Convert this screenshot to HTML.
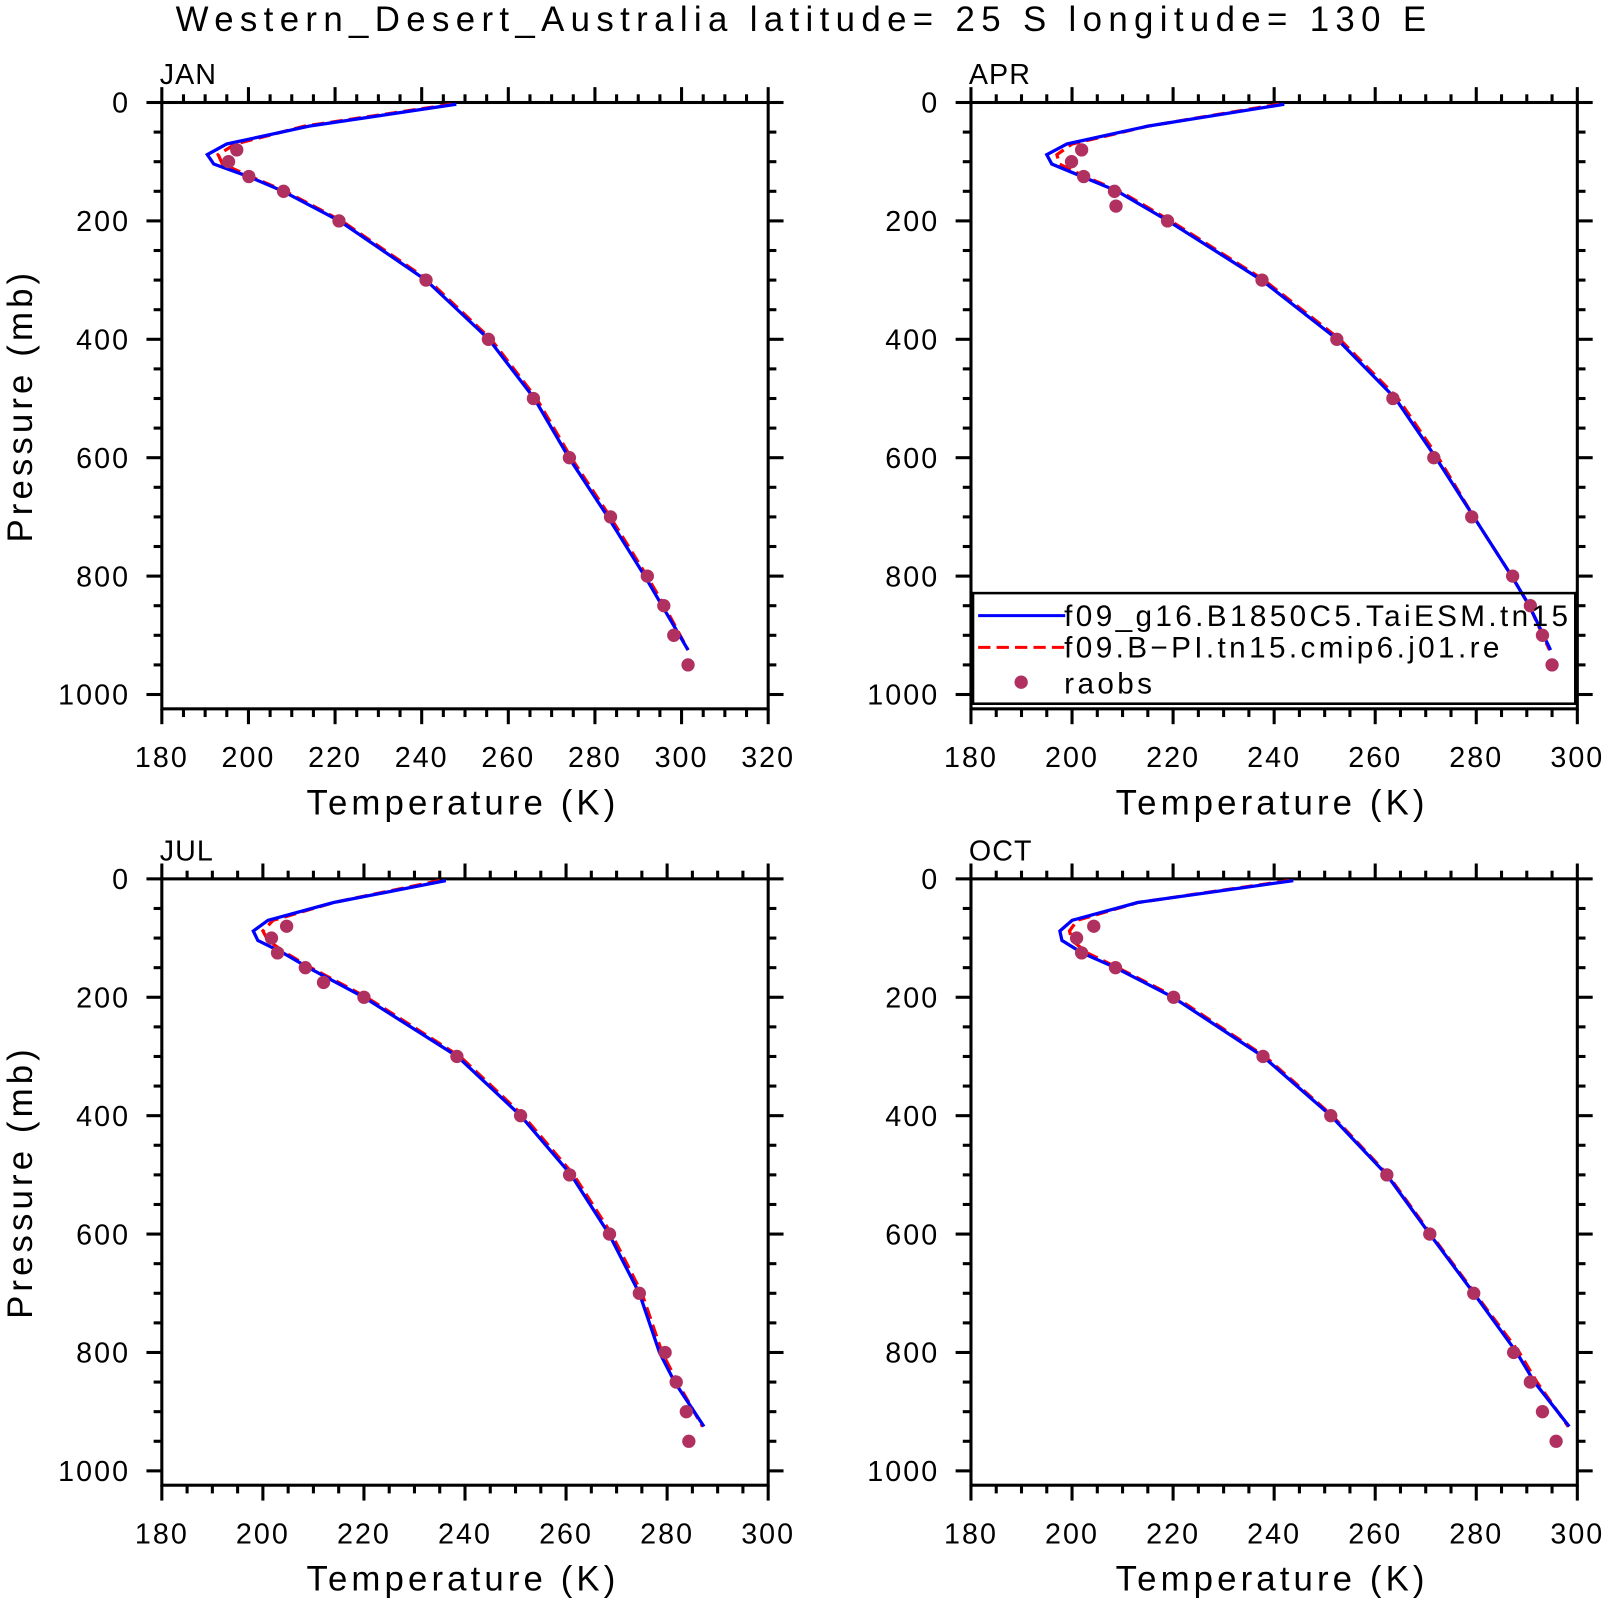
<!DOCTYPE html>
<html><head><meta charset="utf-8"><style>
html,body{margin:0;padding:0;background:#fff}
svg text{font-family:"Liberation Sans",sans-serif;fill:#000}
</style></head><body>
<svg id="chart" width="1606" height="1600" viewBox="0 0 1568 1562" xmlns="http://www.w3.org/2000/svg">
<rect width="1568" height="1562" fill="#fff"/>
<text x="785" y="30" font-size="34" text-anchor="middle" letter-spacing="6.2">Western_Desert_Australia  latitude= 25 S longitude= 130 E</text>
<g id="panels"></g>
</svg>
<script>
const months = ["JAN","APR","JUL","OCT"];
const modelP = [3,40,70,88,104,125,150,200,300,400,500,600,700,800,850,925];
const blueJAN = [248,214,195,190.5,192,200,208,221,241,255.5,266,274,283,291.5,295.5,301.5];
const redJAN  = [247,213,197,193,194,200.5,208.5,221.5,241.5,256,266.5,274.5,283.5,292,296,301.5];
const blueAPR = [242,215,199,195,196,202,209,219,237.5,252.5,264,272,279.5,287,290.5,294.7];
const redAPR  = [241,215,200,197,197.5,202.5,209.5,219.5,238,253,264.5,272.5,279.5,287,290.5,294.5];
const blueJUL = [236.2,214,201,198.1,199,204,209,220,238.5,251,261,268.5,274.5,278.5,281.5,287.3];
const redJUL  = [235,214,202,200,201,204.5,209.5,220.5,239,251.5,261.5,269,275,279,282,287];
const blueOCT = [243.8,213,200,197.6,198,202,208.6,220,237.8,251.2,262.3,270.8,279.5,288,291.5,298.4];
const redOCT  = [243,213,201,199.5,200,203,209,220.5,238.2,251.5,262.5,271,279.7,288.5,292,298.2];
const obsPJAN = [80,100,125,150,200,300,400,500,600,700,800,850,900,950];
const obsTJAN = [197.3,195.4,200.1,208.1,220.9,241,255.4,265.8,274.1,283.6,292.1,295.9,298.2,301.5];
const obsPAPR = [80,100,125,150,175,200,300,400,500,600,700,800,850,900,950];
const obsTAPR = [201.9,199.9,202.3,208.4,208.7,218.9,237.6,252.4,263.5,271.6,279.1,287.2,290.7,293.1,295];
const obsPJUL = [80,100,125,150,175,200,300,400,500,600,700,800,850,900,950];
const obsTJUL = [204.7,201.7,202.9,208.4,212,220,238.4,251,260.7,268.6,274.5,279.6,281.8,283.8,284.3];
const obsPOCT = [80,100,125,150,200,300,400,500,600,700,800,850,900,950];
const obsTOCT = [204.3,200.9,201.9,208.6,220.1,237.8,251.2,262.3,270.8,279.5,287.4,290.7,293.1,295.8];
const xMaxes = [320,300,300,300];
const xTicksJAN = [180,200,220,240,260,280,300,320];
const xTicksOther = [180,200,220,240,260,280,300];
const yTicks = [0,200,400,600,800,1000];

const NS="http://www.w3.org/2000/svg";
const root=document.getElementById('panels');
function mk(tag,attrs,parent){const e=document.createElementNS(NS,tag);for(const k in attrs)e.setAttribute(k,attrs[k]);(parent||root).appendChild(e);return e;}
const origins=[[158,100],[948,100],[158,858],[948,858]];
const W=592,H=592,pScale=0.578;
const blues={JAN:blueJAN,APR:blueAPR,JUL:blueJUL,OCT:blueOCT};
const reds={JAN:redJAN,APR:redAPR,JUL:redJUL,OCT:redOCT};
const obsP={JAN:obsPJAN,APR:obsPAPR,JUL:obsPJUL,OCT:obsPOCT};
const obsT={JAN:obsTJAN,APR:obsTAPR,JUL:obsTJUL,OCT:obsTOCT};

months.forEach((m,i)=>{
  const [x0,y0]=origins[i];
  const xmin=180,xmax=xMaxes[i];
  const xs=t=>x0+(t-xmin)/(xmax-xmin)*W;
  const ys=p=>y0+p*pScale;
  const g=mk('g',{});
  
  
  const lab=mk('text',{x:x0-2,y:y0-18,'font-size':28,'letter-spacing':1},g);lab.textContent=m;
  
  
  const ax=mk('g',{stroke:'#000','stroke-width':3},g);
  
  
  mk('rect',{x:x0,y:y0,width:W,height:H,fill:'none'},ax);
  for(let t=xmin;t<=xmax;t+=5){
    const maj=(t%20===0),L=maj?15:8,x=xs(t);
    mk('line',{x1:x,x2:x,y1:y0,y2:y0-L},ax);
    mk('line',{x1:x,x2:x,y1:y0+H,y2:y0+H+L},ax);
  }
  for(let p=0;p<=1000;p+=50){
    const maj=(p%200===0),L=maj?15:8,y=ys(p);
    mk('line',{x1:x0,x2:x0-L,y1:y,y2:y},ax);
    mk('line',{x1:x0+W,x2:x0+W+L,y1:y,y2:y},ax);
  }
  (i===0?xTicksJAN:xTicksOther).forEach(t=>{
    const tx=mk('text',{x:xs(t),y:y0+H+57,'font-size':28,'text-anchor':'middle','letter-spacing':2},g);tx.textContent=t;
    
    
  });
  yTicks.forEach(p=>{
    const tx=mk('text',{x:x0-31,y:ys(p)+10,'font-size':28,'text-anchor':'end','letter-spacing':2},g);tx.textContent=p;
    
    
  });
  const xt=mk('text',{x:x0+W/2-2,y:y0+H+103,'font-size':34,'text-anchor':'middle','letter-spacing':4},g);xt.textContent='Temperature (K)';
  
  
  if(i%2===0){
    const yt=mk('text',{x:0,y:0,'font-size':34,'text-anchor':'middle','letter-spacing':4,transform:`translate(31,${y0+296}) rotate(-90)`},g);yt.textContent='Pressure (mb)';
    
    
  }
  const pts=arr=>arr.map((t,k)=>xs(t).toFixed(1)+','+ys(modelP[k]).toFixed(1)).join(' ');
  const rl=mk('polyline',{points:pts(reds[m]),fill:'none',stroke:'#ff0000','stroke-width':3.2,'stroke-dasharray':'12,6'},g);
  
  
  const bl=mk('polyline',{points:pts(blues[m]),fill:'none',stroke:'#0000ff','stroke-width':3.2},g);
  
  
  obsP[m].forEach((p,k)=>{
    const c=mk('circle',{cx:xs(obsT[m][k]),cy:ys(p),r:6.5,fill:'#b03060'},g);
    
    
  });
});
const lg=mk('g',{});


mk('rect',{x:950,y:579,width:588,height:108,fill:'none',stroke:'#000','stroke-width':2.5},lg);
mk('line',{x1:955,x2:1040,y1:601,y2:601,stroke:'#0000ff','stroke-width':3},lg);
mk('line',{x1:955,x2:1040,y1:632,y2:632,stroke:'#ff0000','stroke-width':3,'stroke-dasharray':'12,6'},lg);
mk('circle',{cx:997,cy:666,r:6.5,fill:'#b03060'},lg);
[['f09_g16.B1850C5.TaiESM.tn15',611,'legend-entry-taiesm'],['f09.B\u2212PI.tn15.cmip6.j01.re',642,'legend-entry-cmip6'],['raobs',677,'legend-entry-raobs']].forEach(([s,y,n])=>{
  const t=mk('text',{x:1039,y:y,'font-size':29,'letter-spacing':3.3},lg);t.textContent=s;
  
  
});
</script>
</body></html>
